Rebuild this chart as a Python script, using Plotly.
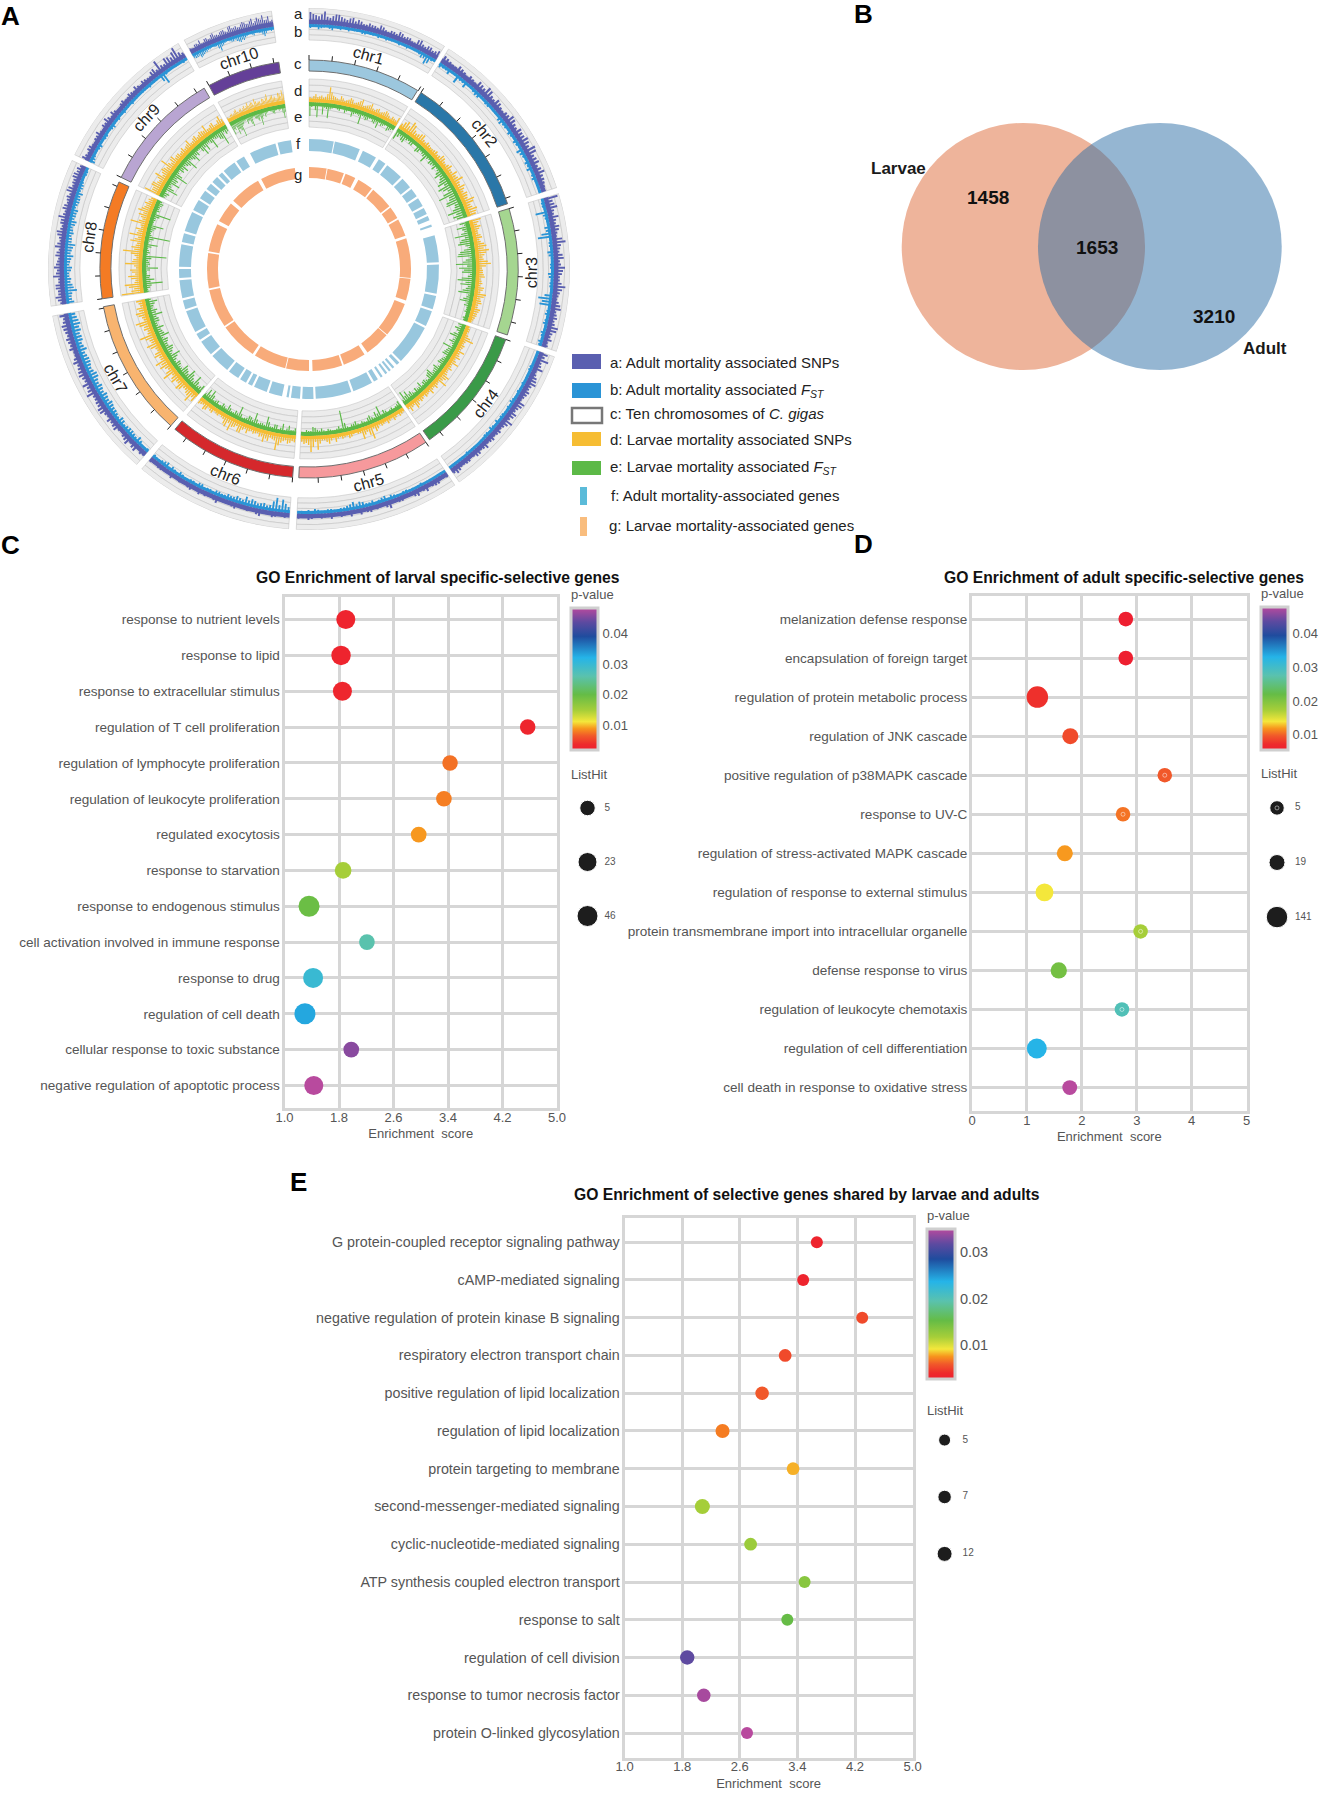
import numpy as np
import plotly.graph_objects as go

W, H = 1319, 1796
def px(x): return x / W
def py(y): return 1 - y / H

# ---------- panel A data ----------
chrom_names = ["chr1","chr2","chr3","chr4","chr5","chr6","chr7","chr8","chr9","chr10"]
chrom_start = [0.0,32.4,73.2,109.7,146.0,184.5,221.4,261.8,296.0,331.4]
chrom_end   = [31.3,71.8,108.4,144.8,182.8,219.9,259.6,294.6,329.9,351.7]
chrom_color = ["#9cc7de","#2a77a8","#a5d690","#3a9a48","#f6999c","#d5282c","#f8b46f","#f47b24","#b9a5d2","#643f98"]

a_snp = [
 [12,9,10,8,9,11,8,9,7,8,6,7,6,8,5,7,9,6,7,5,10,6,8,7],
 [8,6,5,7,4,6,9,7,10,6,8,5,7,9,6,8,10,7,11,8,6,10,7,5],
 [14,9,7,10,6,8,5,13,7,9,6,11,8,6,12,7,5,9,6,8,7,10,6,5],
 [9,12,7,5,8,10,6,7,5,9,6,8,11,6,7,5,6,8,5,7,4,6,5,8],
 [5,4,6,3,5,7,4,3,5,4,6,4,3,5,6,3,4,5,3,4,5,3,6,4],
 [3,4,5,3,4,6,3,4,3,5,4,3,5,4,3,4,6,3,5,4,3,4,5,4],
 [5,4,7,9,6,5,7,8,6,9,7,6,8,10,7,8,6,7,5,6,8,7,9,6],
 [6,10,7,9,6,8,10,7,9,6,8,7,10,6,8,7,9,6,8,10,6,7,9,8],
 [8,5,7,4,6,5,7,9,5,6,4,7,5,6,8,4,6,5,9,14,6,10,12,8],
 [6,4,7,9,5,8,6,10,7,8,9,6,11,8,7,9,10,8,12,9,10,13,8,6],
]
a_snp_between = [
 [10,8,13,7,11,9,7,10,9,6,8,7,9,6,7,6,8,7,5,9,7,8,6,9],
 [7,5,8,6,7,5,8,11,7,9,6,7,10,7,9,8,9,12,7,9,8,7,6,4],
 [8,11,6,7,9,6,10,8,6,10,7,9,6,8,9,6,7,10,7,6,11,7,8,6],
 [7,6,10,6,9,7,8,6,10,7,9,6,8,5,6,7,5,6,7,5,6,5,7,6],
 [4,6,5,7,4,6,3,5,4,8,3,5,6,4,3,6,4,3,6,4,3,5,4,5],
 [5,3,6,4,7,3,5,4,6,3,4,7,3,5,6,3,5,4,3,6,4,5,3,5],
 [6,8,5,7,4,8,6,5,9,7,6,11,7,6,9,7,9,5,8,7,6,8,7,9],
 [8,7,9,6,11,7,8,6,8,10,6,9,7,8,11,6,8,7,6,9,7,9,7,6],
 [6,7,5,6,8,4,6,7,8,4,6,5,7,5,6,7,5,8,6,7,11,8,15,6],
 [5,7,6,5,8,6,9,7,6,9,7,10,8,9,7,11,8,10,7,12,9,8,11,7],
]
b_fst = [
 [4,3,4,2,5,3,2,4,3,2,4,3,2,3,4,3,2,3,4,2,3,6,10,4],
 [5,4,3,9,4,3,4,5,3,4,3,2,6,4,5,3,4,7,4,5,6,4,3,2],
 [3,4,12,4,3,5,14,4,3,5,3,4,6,3,4,3,14,12,4,3,5,3,4,5],
 [3,2,3,4,3,3,2,4,3,5,4,3,4,5,4,3,4,3,2,3,4,3,2,3],
 [2,3,2,3,4,2,3,4,3,5,6,4,5,4,7,8,5,4,3,4,3,5,4,3],
 [6,13,14,6,7,5,8,9,6,5,6,4,5,4,3,5,4,3,4,3,5,6,4,3],
 [4,3,7,5,6,4,7,5,6,8,7,6,8,7,9,6,8,7,9,6,8,9,10,8],
 [8,6,12,8,7,5,8,6,9,7,10,6,7,5,8,6,7,5,6,7,5,4,3,4],
 [6,4,3,5,3,4,3,5,3,2,4,3,4,3,2,3,4,3,2,12,3,2,3,4],
 [5,6,8,6,5,4,3,4,10,5,3,4,5,6,8,7,4,3,5,3,4,8,3,4],
]
b_fst_between = [
 [3,5,3,4,2,4,3,2,3,4,2,3,4,2,3,2,4,3,2,3,4,5,8,3],
 [4,6,3,4,7,3,5,3,4,2,3,5,4,3,4,5,3,5,3,4,3,5,2,3],
 [4,3,5,3,6,10,3,4,6,3,4,3,5,4,3,8,10,3,5,4,3,5,3,4],
 [2,3,4,2,3,4,3,3,4,3,3,4,3,3,5,4,3,2,3,3,2,3,3,2],
 [3,2,3,2,3,3,4,2,4,3,5,3,4,6,5,6,4,3,4,3,4,3,3,2],
 [9,7,10,5,6,7,6,5,7,5,4,5,3,4,5,3,4,3,5,4,3,5,3,4],
 [3,5,4,6,5,6,4,6,7,6,8,7,6,9,7,7,8,6,7,8,7,8,9,7],
 [6,7,9,6,5,7,5,7,6,8,6,5,6,7,5,6,4,6,5,4,5,3,4,3],
 [5,3,4,3,4,2,4,3,4,3,3,2,3,2,3,3,2,3,8,4,2,3,2,3],
 [6,5,7,5,4,3,4,7,6,4,3,5,4,7,6,5,3,4,3,4,6,5,2,3],
]
d_snp = [
 [5,6,5,7,6,16,8,6,9,5,7,8,6,9,5,7,10,5,8,6,9,6,7,5],
 [6,11,14,8,7,10,5,6,5,7,6,8,5,9,6,7,12,6,8,9,7,11,8,10],
 [12,7,8,6,9,7,12,14,9,8,15,6,7,9,6,5,8,12,7,9,6,8,7,5],
 [4,5,6,13,5,6,10,7,5,11,6,5,7,9,13,6,5,9,6,4,7,8,5,9],
 [4,6,5,4,7,5,4,9,15,6,12,5,4,7,5,4,8,6,7,5,14,11,9,8],
 [7,8,6,9,17,7,10,12,8,6,5,9,7,11,8,14,12,6,4,5,7,4,9,6],
 [10,14,8,6,12,7,9,15,6,12,14,7,9,6,13,8,16,6,8,15,7,12,10,7],
 [22,9,18,7,14,10,6,17,9,8,20,12,7,10,16,8,6,18,7,12,14,9,10,8],
 [16,9,12,7,14,9,10,16,7,11,8,6,9,7,11,6,9,7,8,12,6,9,5,11],
 [5,4,7,6,9,5,8,7,6,11,8,9,12,7,8,10,7,13,8,11,9,7,11,14],
]
d_snp_between = [
 [4,8,6,5,9,11,7,5,7,6,9,5,7,11,6,8,6,7,5,7,8,4,6,9],
 [9,8,12,6,9,6,7,5,6,5,9,6,7,6,10,8,7,10,6,8,13,7,12,9],
 [9,10,6,8,6,10,9,11,7,12,10,7,8,5,7,9,6,10,8,6,9,7,6,4],
 [5,4,9,6,7,5,6,9,7,5,8,6,11,7,5,8,6,5,7,6,5,10,6,5],
 [5,3,7,5,4,6,7,5,10,8,5,3,6,4,6,5,4,9,5,8,6,16,7,6],
 [6,9,7,12,8,6,8,7,5,7,6,5,11,6,9,7,10,5,6,4,6,8,5,7],
 [7,9,6,10,7,11,6,10,8,9,7,11,5,10,7,11,7,9,12,6,10,8,6,9],
 [12,14,8,11,7,12,8,10,6,12,9,8,14,7,9,11,7,10,9,8,11,8,7,6],
 [9,12,8,10,7,11,8,9,10,7,8,7,6,8,6,8,6,9,7,6,8,5,8,7],
 [4,6,5,8,6,7,5,9,8,7,10,6,9,8,6,9,10,7,10,8,7,12,8,10],
]
e_fst = [
 [14,4,15,4,5,15,5,4,6,4,5,4,6,5,14,6,7,5,8,11,7,5,9,6],
 [12,6,10,5,7,4,8,6,12,5,7,9,6,12,9,14,16,8,20,11,16,9,18,14],
 [10,14,7,18,12,16,6,15,18,10,20,17,14,8,18,15,9,16,7,13,8,5,4,6],
 [8,10,5,12,7,6,14,8,10,6,8,5,10,7,12,9,6,7,10,6,5,9,12,14],
 [8,5,6,4,8,14,10,6,7,5,4,8,6,5,22,7,4,5,4,7,6,9,5,4],
 [7,5,6,10,4,8,5,14,6,5,14,8,6,4,14,8,5,10,6,5,7,5,13,12],
 [10,6,14,8,14,9,12,6,9,7,14,8,11,7,10,13,8,11,6,9,14,10,7,12],
 [6,7,20,12,8,5,16,8,6,24,7,5,14,6,25,5,7,16,5,6,20,7,6,8],
 [6,9,16,7,14,10,18,6,9,11,8,16,7,13,9,5,14,12,6,15,7,10,18,9],
 [14,10,16,12,20,8,6,10,7,14,5,8,11,16,7,9,5,4,6,8,5,6,4,14],
]
e_fst_between = [
 [5,8,4,12,6,6,4,5,4,7,4,9,5,6,5,8,5,7,6,5,6,4,7,5],
 [8,9,6,7,4,9,5,7,6,8,6,5,9,7,11,8,12,14,10,15,8,12,10,11],
 [6,9,11,8,14,9,11,17,6,13,9,12,6,14,10,7,12,6,10,6,5,6,4,5],
 [6,7,9,6,10,5,7,9,5,7,9,6,8,6,10,5,8,5,6,8,6,7,8,6],
 [6,4,5,6,5,7,5,9,4,6,5,6,4,9,5,5,4,6,5,5,8,5,6,4],
 [5,9,4,6,8,5,9,5,6,8,6,9,5,7,6,5,7,5,8,4,6,9,7,6],
 [7,9,6,11,7,10,6,8,5,10,6,10,7,9,6,9,7,6,9,7,8,6,9,6],
 [5,9,8,7,5,8,6,7,9,5,6,8,5,9,6,6,9,5,6,9,5,6,7,6],
 [7,5,11,6,9,7,11,5,7,6,10,6,9,7,5,9,7,6,8,6,7,11,6,7],
 [9,7,11,13,9,6,5,7,11,6,7,9,7,10,5,6,4,5,7,5,4,5,9,8],
]
f_genes = [[0,11],[11.5,23],[24.5,31],[32.5,36],[37,45],[46,51],[52,56],[57,61],[62,65],[66,68],[70,71],[75,87],
 [88,101],[102,108],[109,116],[117,135],[136,137.5],[139,140],[141,142],[143,144],[145.5,146.5],[148,150],[151,160],
 [161,177],[178,183],[184,188],[189,190],[192,198],[199,205],[206,208],[209,212],[213,218],[219,228],[229,236],
 [237,240],[241,251],[252,256],[257,265],[266,270],[271,281],[282,286],[287,296],[297,302],[303,307],[308,311],
 [312,315],[316,318],[319,325],[326,330],[333,345],[346,352]]
g_genes = [[0,10],[10.5,20],[21,27],[29,38],[39,52],[53,60],[61,71],[72.5,95],[95.5,108],[110,130],[130.5,145],
 [147,160],[161,178],[180,193],[193.5,212],[213.5,235],[236,258],[259,279],[280,296],[298,310],[312,330],[332,352]]

legend_a_text = ["a: Adult mortality associated SNPs","b: Adult mortality associated <i>F</i><sub><i>ST</i></sub>",
 "c: Ten chromosomes of <i>C. gigas</i>","d: Larvae mortality associated SNPs",
 "e: Larvae mortality associated <i>F</i><sub><i>ST</i></sub>","f: Adult mortality-associated genes",
 "g: Larvae mortality-associated genes"]
track_letters = ["a","b","c","d","e","f","g"]

# ---------- panel B data ----------
venn_labels = ["Larvae","Adult"]
venn_counts = [1458,1653,3210]

# ---------- panel C data ----------
c_terms = ["response to nutrient levels","response to lipid","response to extracellular stimulus",
 "regulation of T cell proliferation","regulation of lymphocyte proliferation","regulation of leukocyte proliferation",
 "regulated exocytosis","response to starvation","response to endogenous stimulus",
 "cell activation involved in immune response","response to drug","regulation of cell death",
 "cellular response to toxic substance","negative regulation of apoptotic process"]
c_score = [1.90,1.83,1.85,4.57,3.43,3.34,2.97,1.86,1.36,2.21,1.42,1.30,1.98,1.43]
c_hits  = [23,28,23,5,5,6,6,11,46,6,34,50,6,23]
c_p     = [.0028,.0028,.003,.003,.0075,.008,.009,.0149,.0196,.026,.0298,.033,.046,.0484]
c_leg_hits = [5,23,46]

# ---------- panel D data ----------
d_terms = ["melanization defense response","encapsulation of foreign target","regulation of protein metabolic process",
 "regulation of JNK cascade","positive regulation of p38MAPK cascade","response to UV-C",
 "regulation of stress-activated MAPK cascade","regulation of response to external stimulus",
 "protein transmembrane import into intracellular organelle","defense response to virus",
 "regulation of leukocyte chemotaxis","regulation of cell differentiation","cell death in response to oxidative stress"]
d_score = [2.80,2.80,1.19,1.79,3.51,2.75,1.69,1.32,3.07,1.58,2.73,1.18,1.78]
d_hits  = [7,7,141,19,5,5,19,60,5,25,5,105,8]
d_p     = [.0055,.0055,.0075,.009,.0097,.0107,.012,.014,.0174,.021,.0285,.033,.048]
d_leg_hits = [5,19,141]

# ---------- panel E data ----------
e_terms = ["G protein-coupled receptor signaling pathway","cAMP-mediated signaling",
 "negative regulation of protein kinase B signaling","respiratory electron transport chain",
 "positive regulation of lipid localization","regulation of lipid localization","protein targeting to membrane",
 "second-messenger-mediated signaling","cyclic-nucleotide-mediated signaling","ATP synthesis coupled electron transport",
 "response to salt","regulation of cell division","response to tumor necrosis factor","protein O-linked glycosylation"]
e_score = [3.67,3.48,4.30,3.23,2.91,2.36,3.34,2.08,2.75,3.50,3.26,1.87,2.10,2.70]
e_hits  = [5,5,5,6,7,9,6,12,6,5,5,10,7,5]
e_p     = [.0032,.0032,.0052,.0052,.0058,.0068,.008,.0117,.0123,.0133,.0152,.0318,.0344,.035]
e_leg_hits = [5,7,12]

rainbow = [[0,"#ee1f30"],[0.04,"#ee2a2c"],[0.1,"#f1592a"],[0.15,"#f7941d"],[0.2,"#f4e73b"],[0.28,"#a6ce39"],
 [0.39,"#65bc46"],[0.52,"#5ac2ae"],[0.65,"#25b4e8"],[0.8,"#1f4c9e"],[0.9,"#5d4aa0"],[1,"#b84a9e"]]

fig = go.Figure()
annotations, shapes = [], []

def ann(text, x, y, size=13, color="#555555", anchor="center", angle=0, font="Liberation Sans"):
    annotations.append(dict(text=text, x=px(x), y=py(y), xref="paper", yref="paper", showarrow=False,
        xanchor=anchor, yanchor="middle", textangle=angle, font=dict(size=size, color=color, family=font)))

# ---------- circos ----------
CX, CY, RMAX = 309, 269, 261
TRACK_AB = (229, 261, 6); BASE_AB = 245
TRACK_DE = (142, 190, 8); BASE_DE = 167
CHR_IN, CHR_OUT = 198, 209
TICK_STEP = 6.3

def bar(theta, base, r, width, color, line=None, lw=0):
    fig.add_trace(go.Barpolar(theta=theta, base=base, r=r, width=width, subplot="polar",
        marker=dict(color=color, line=dict(color=line or color, width=lw)), hoverinfo="skip", showlegend=False))

mid = [(s + e) / 2 for s, e in zip(chrom_start, chrom_end)]
span = [e - s for s, e in zip(chrom_start, chrom_end)]

for (r0, r1, n) in (TRACK_AB, TRACK_DE):
    step = (r1 - r0) / n
    th, ba, rr, wd = [], [], [], []
    for m, sp in zip(mid, span):
        for k in range(n):
            th.append(m); ba.append(r0 + k * step); rr.append(step); wd.append(sp)
    bar(th, ba, rr, wd, "#ececec", "#c4c4c4", 0.6)

bar(mid, [CHR_IN] * 10, [CHR_OUT - CHR_IN] * 10, span, chrom_color, "#6e6e6e", 1)

def hist(values, between, baseline, outward, color, band):
    th, ba, rr, wd = [], [], [], []
    for s, sp, vals, vals2 in zip(chrom_start, span, values, between):
        n = len(vals)
        for i, (v, v2) in enumerate(zip(vals, vals2)):
            for off, val in ((.25, v), (.75, v2)):
                th.append(s + (i + off) * sp / n); rr.append(val); wd.append(sp / n * 0.3)
                ba.append(baseline if outward else baseline - val)
    bar(th, ba, rr, wd, color)
    bar(mid, [baseline if outward else baseline - band] * 10, [band] * 10, span, color)

hist(b_fst, b_fst_between, BASE_AB, False, "#2a94d6", 3.0)
hist(a_snp, a_snp_between, BASE_AB, True, "#5a5fb0", 4.5)
hist(e_fst, e_fst_between, BASE_DE, False, "#5cb947", 4.0)
hist(d_snp, d_snp_between, BASE_DE, True, "#f6bd33", 3.5)

def genes(segs, r0, r1, color):
    th = [(a + b) / 2 for a, b in segs]; wd = [b - a for a, b in segs]
    bar(th, [r0] * len(segs), [r1 - r0] * len(segs), wd, color)
genes(f_genes, 118, 130, "#98c7de")
genes(g_genes, 91, 102, "#f8ab7a")

tr, tt = [], []
for s, e in zip(chrom_start, chrom_end):
    for a in np.arange(s, e + 0.5, TICK_STEP):
        tr += [CHR_OUT, CHR_OUT + 5, None]; tt += [a, a, None]
fig.add_trace(go.Scatterpolar(r=tr, theta=tt, mode="lines", line=dict(color="#222222", width=1), subplot="polar",
    hoverinfo="skip", showlegend=False))

for name, m in zip(chrom_names, mid):
    a = np.radians(m)
    angle = m - 180 if 90 < m < 270 else (m if m <= 90 else m - 360)
    ann(name, CX + 222 * np.sin(a), CY - 222 * np.cos(a), size=16, color="#222222", angle=angle)

for letter, y in zip(track_letters, [14, 31.5, 63, 91, 117, 143, 174]):
    ann(letter, 298, y, size=15, color="#222222")

# ---------- panel A legend ----------
swatches = [("#5a5fb0", 572, 601, 354, 369), ("#2a94d6", 572, 601, 383, 398), (None, 572, 602, 408, 423),
            ("#f6bd33", 572, 601, 432, 446), ("#5cb947", 572, 601, 461, 475),
            ("#5bbbd9", 580, 587, 487, 505), ("#f9bd7e", 580, 587, 517, 536)]
for col, x0, x1, y0, y1 in swatches:
    shapes.append(dict(type="rect", xref="paper", yref="paper", x0=px(x0), x1=px(x1), y0=py(y0), y1=py(y1),
        fillcolor=col or "rgba(0,0,0,0)", line=dict(color="#777777" if col is None else col, width=2.5 if col is None else 0)))
for txt, x, y in zip(legend_a_text, [608,608,608,608,608,609,607], [363,390,413,439,467,496,525]):
    ann(txt, x, y, size=15, color="#222222", anchor="left")

# ---------- venn ----------
shapes.append(dict(type="circle", xref="paper", yref="paper", x0=px(901.7), x1=px(1145), y0=py(123), y1=py(370),
    fillcolor="#eeb49b", line=dict(width=0)))
shapes.append(dict(type="circle", xref="paper", yref="paper", x0=px(1038), x1=px(1281.7), y0=py(123), y1=py(370),
    fillcolor="rgb(43,109,165)", opacity=0.5, line=dict(width=0)))
for lab, x, y in zip(venn_labels, [898, 1265], [168, 348]):
    ann("<b>%s</b>" % lab, x, y, size=17, color="#1a1a1a")
for c, x, y in zip(venn_counts, [988, 1097, 1214], [197, 248, 317]):
    ann("<b>%d</b>" % c, x, y, size=19, color="#111111")

# ---------- bubble panels ----------
GRID = "#d6d6d6"
def panel(idx, terms, score, hits, p, leg_hits, box, pad, xrange_, xticks, xfmt, size_fp, cbar, ticks, title, title_xy, leg,
          term_size=13.55, cbar_size=13, rings=False):
    x0, x1, y0, y1 = box
    ax = "" if idx == 1 else str(idx)
    sizes = np.interp(hits, leg_hits, size_fp)
    fig.add_trace(go.Scatter(x=score, y=terms, mode="markers", xaxis="x" + ax, yaxis="y" + ax, showlegend=False,
        marker=dict(size=sizes, color=p, colorscale=rainbow, cmin=cbar["cmin"], cmax=cbar["cmax"], line=dict(width=0), opacity=1,
            colorbar=dict(x=px(cbar["x"]), xanchor="left", y=py(cbar["y0"]), yanchor="top", len=(cbar["y1"] - cbar["y0"]) / H,
                lenmode="fraction", thickness=cbar["w"], thicknessmode="pixels", xpad=0, ypad=0, outlinecolor="#cfcfcf", outlinewidth=3,
                tickvals=ticks, ticktext=["%g" % t for t in ticks], ticks="", ticklabelposition="outside",
                tickfont=dict(size=cbar_size, color="#555555", family="Liberation Sans")))))
    if rings:
        sx = [s for s, h in zip(score, hits) if h == leg_hits[0]]
        sy = [t for t, h in zip(terms, hits) if h == leg_hits[0]]
        fig.add_trace(go.Scatter(x=sx, y=sy, mode="markers", xaxis="x" + ax, yaxis="y" + ax, showlegend=False, hoverinfo="skip",
            marker=dict(symbol="circle-open", size=4, color="rgba(255,255,255,0.5)", line=dict(width=1))))
    fig.update_layout({
        "xaxis" + ax: dict(domain=[px(x0), px(x1)], range=xrange_, tickvals=xticks, ticktext=[xfmt % t for t in xticks], showgrid=True,
            gridcolor=GRID, gridwidth=2.5, showline=True, mirror=True, linecolor=GRID, linewidth=3, zeroline=False, ticks="",
            ticklabelstandoff=-5,
            tickfont=dict(size=13, color="#555555", family="Liberation Sans"), anchor="y" + ax,
            title=dict(text="Enrichment\u00a0 score", standoff=6, font=dict(size=13, color="#555555", family="Liberation Sans"))),
        "yaxis" + ax: dict(domain=[py(y1), py(y0)], type="category", categoryorder="array", categoryarray=terms,
            range=[len(terms) - 1 + pad, -pad], showgrid=True, gridcolor=GRID, gridwidth=2.5, showline=True, mirror=True, linecolor=GRID,
            linewidth=3, zeroline=False, ticks="", ticklabelstandoff=-1,
            tickfont=dict(size=term_size, color="#555555", family="Liberation Sans"), anchor="x" + ax)})
    ann("<b>%s</b>" % title, title_xy[0], title_xy[1], size=15.7, color="#111111")
    ann("p-value", cbar["x"] - 2, cbar["y0"] - 14, size=13, anchor="left")
    ann("ListHit", cbar["x"] - 2, leg["title_y"], size=13, anchor="left")
    # ListHit key
    lx = str(idx + 3)
    cx, ycs, label_dx = leg["cx"], leg["y"], leg["dx"]
    spacing = ycs[1] - ycs[0]
    labels = [str(v) for v in leg_hits]
    fig.add_trace(go.Scatter(x=[0] * 3, y=labels, mode="markers", xaxis="x" + lx, yaxis="y" + lx, showlegend=False, hoverinfo="skip",
        marker=dict(size=size_fp, color="#1d1d1d", opacity=1)))
    if rings:
        fig.add_trace(go.Scatter(x=[0], y=labels[:1], mode="markers", xaxis="x" + lx, yaxis="y" + lx, showlegend=False, hoverinfo="skip",
            marker=dict(symbol="circle-open", size=4, color="rgba(255,255,255,0.5)", line=dict(width=1))))
    fig.add_trace(go.Scatter(x=[label_dx] * 3, y=labels, text=labels, mode="text", textposition="middle right", xaxis="x" + lx, yaxis="y" + lx,
        showlegend=False, hoverinfo="skip", textfont=dict(size=10, color="#555555", family="Liberation Sans")))
    fig.update_layout({
        "xaxis" + lx: dict(domain=[px(cx - 20), px(min(cx + 40, W))], range=[-20, min(40, W - cx)], visible=False, anchor="y" + lx, fixedrange=True),
        "yaxis" + lx: dict(domain=[py(ycs[2] + spacing / 2), py(ycs[0] - spacing / 2)], type="category", categoryorder="array", categoryarray=labels,
            range=[2.5, -0.5], visible=False, anchor="x" + lx, fixedrange=True)})

panel(1, c_terms, c_score, c_hits, c_p, c_leg_hits, (284.5, 557, 597, 1108), 0.63, [1, 5], [1.0,1.8,2.6,3.4,4.2,5.0], "%.1f",
      [15.5, 19, 21], dict(x=571, y0=608, y1=750, w=26.6, cmin=.0019, cmax=.0484), [.01,.02,.03,.04],
      "GO Enrichment of larval specific-selective genes", (438, 577), dict(cx=587.5, y=[808,862,916], dx=17, title_y=774))
panel(2, d_terms, d_score, d_hits, d_p, d_leg_hits, (972, 1246.6, 595.6, 1111), 0.6, [0, 5], [0,1,2,3,4,5], "%d",
      [14.5, 16, 21.5], dict(x=1260.5, y0=607, y1=750, w=26.9, cmin=.0055, cmax=.048), [.01,.02,.03,.04],
      "GO Enrichment of adult specific-selective genes", (1124, 577), dict(cx=1277, y=[808,862.7,917], dx=18, title_y=773), rings=True)
panel(3, e_terms, e_score, e_hits, e_p, e_leg_hits, (624.6, 912.6, 1217.6, 1757.6), 0.65, [1, 5], [1.0,1.8,2.6,3.4,4.2,5.0], "%.1f",
      [12, 13.5, 15], dict(x=927, y0=1229, y1=1379, w=28, cmin=.0026, cmax=.035), [.01,.02,.03],
      "GO Enrichment of selective genes shared by larvae and adults", (806.5, 1194.5), dict(cx=944.6, y=[1440,1496.7,1554], dx=18, title_y=1410),
      term_size=14.3, cbar_size=14.5)

for letter, x, y in zip("ABCDE", [10, 864, 10, 864, 298], [16, 14, 545, 544, 1182]):
    ann("<b>%s</b>" % letter, x, y, size=26, color="#000000")

fig.update_layout(width=W, height=H, autosize=False, margin=dict(l=0, r=0, t=0, b=0, autoexpand=False), paper_bgcolor="white", plot_bgcolor="white",
    showlegend=False, annotations=annotations, shapes=shapes, font=dict(family="Liberation Sans"),
    polar=dict(domain=dict(x=[px(CX - RMAX), px(CX + RMAX)], y=[py(CY + RMAX), py(CY - RMAX)]), bgcolor="rgba(0,0,0,0)",
        barmode="overlay", bargap=0,
        radialaxis=dict(range=[0, RMAX], visible=False),
        angularaxis=dict(rotation=90, direction="clockwise", visible=False)))

fig.write_html("out.html", post_script="document.body.style.margin='0';", config=dict(displayModeBar=False))
